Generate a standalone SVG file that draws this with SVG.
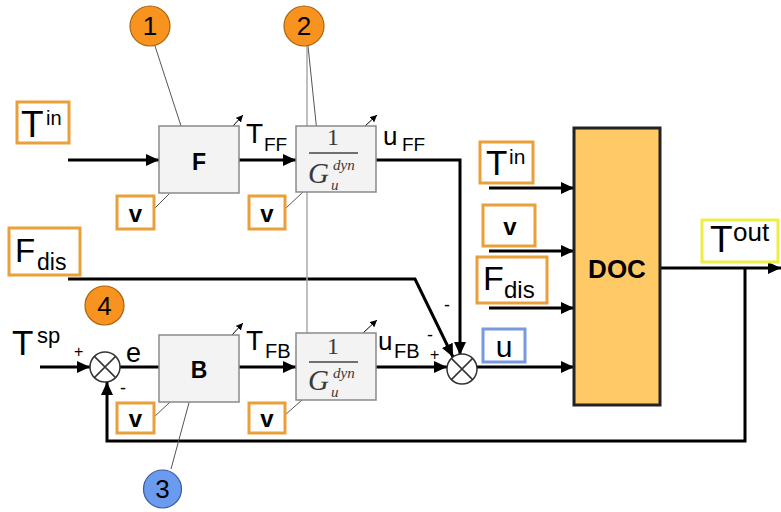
<svg xmlns="http://www.w3.org/2000/svg" width="781" height="512" viewBox="0 0 781 512">
<defs>
<marker id="ah" markerUnits="userSpaceOnUse" markerWidth="14" markerHeight="12" refX="13" refY="6" orient="auto">
<path d="M0,0 L13,6 L0,12 Z" fill="#000"/>
</marker>
<marker id="sah" markerUnits="userSpaceOnUse" markerWidth="8" markerHeight="8" refX="7" refY="3.5" orient="auto">
<path d="M0,0 L7,3.5 L0,7 Z" fill="#000"/>
</marker>
<style>
.w{stroke:#000;stroke-width:3;fill:none}
.a{marker-end:url(#ah)}
.blk{fill:#f3f3f3;stroke:#8a8a8a;stroke-width:1.5}
.ob{fill:#fff;stroke:#E9A03A;stroke-width:3}
.t{font-family:"Liberation Sans",Arial,sans-serif;fill:#000}
.b{font-weight:bold}
.s{font-family:"Liberation Serif","Times New Roman",serif;fill:#3a3a3a}
.thin{stroke:#555;stroke-width:1;fill:none}
.sm{stroke:#000;stroke-width:1;fill:none;marker-end:url(#sah)}
.sum{fill:#fff;stroke:#333;stroke-width:1.5}
.oc{fill:#F7931E;stroke:#A86410;stroke-width:1.2}
.bc{fill:#6B9BEF;stroke:#3A5A9A;stroke-width:1.2}
</style>
</defs>

<g id="connectors">
<line class="w a" x1="68" y1="160" x2="159" y2="160"/>
<line class="w a" x1="239" y1="160" x2="296" y2="160"/>
<polyline class="w a" points="376,160 460,160 460,355"/>
<polyline class="w a" points="68,279 415,279 453,357"/>
<line class="w a" x1="40" y1="367" x2="90" y2="367"/>
<line class="w" x1="120" y1="367" x2="159" y2="367"/>
<line class="w a" x1="239" y1="367" x2="296" y2="367"/>
<line class="w a" x1="376" y1="367" x2="447" y2="367"/>
<line class="w a" x1="477" y1="367" x2="574" y2="367"/>
<line class="w a" x1="489" y1="188" x2="574" y2="188"/>
<line class="w a" x1="489" y1="251" x2="574" y2="251"/>
<line class="w a" x1="489" y1="308" x2="574" y2="308"/>
<line class="w a" x1="660" y1="268" x2="781" y2="268"/>
<polyline class="w a" points="745,268 745,441 107,441 107,382"/>
<!-- annotation lines -->
<line class="thin" x1="155" y1="46" x2="182" y2="129"/>
<line class="thin" x1="308" y1="46" x2="318" y2="142"/>
<line x1="307" y1="46" x2="307" y2="340" stroke="#aaa" stroke-width="1.5"/>
<line class="thin" x1="171" y1="469" x2="193" y2="388"/>
<line class="thin" x1="154" y1="209" x2="169" y2="194"/>
<line class="thin" x1="285" y1="209" x2="303" y2="192"/>
<line class="thin" x1="153" y1="418" x2="170" y2="402"/>
<line class="thin" x1="285" y1="415" x2="302" y2="400"/>
<line class="sm" x1="233" y1="126" x2="243" y2="115"/>
<line class="sm" x1="365" y1="126" x2="377" y2="115"/>
<line class="sm" x1="232" y1="335" x2="243" y2="323"/>
<line class="sm" x1="363" y1="333" x2="377" y2="320"/>
</g>

<g id="circle1"><circle class="oc" cx="150" cy="26" r="20"/><text class="t" x="150" y="35" font-size="26" text-anchor="middle">1</text></g>
<g id="circle2"><circle class="oc" cx="304" cy="26" r="20"/><text class="t" x="304" y="35" font-size="26" text-anchor="middle">2</text></g>
<g id="circle4"><circle class="oc" cx="104.5" cy="305.5" r="19.5"/><text class="t" x="104.5" y="314.5" font-size="26" text-anchor="middle">4</text></g>
<g id="circle3"><circle class="bc" cx="162.5" cy="489" r="19"/><text class="t" x="162.5" y="498" font-size="26" text-anchor="middle">3</text></g>

<g id="Tin-left"><rect class="ob" x="17" y="102" width="52" height="41"/><text class="t" x="21" y="137" font-size="37">T</text><text class="t" x="46" y="125" font-size="20">in</text></g>
<g id="Fdis-left"><rect class="ob" x="9" y="228" width="71" height="47"/><text class="t" x="15" y="262" font-size="33">F</text><text class="t" x="37" y="270" font-size="23">dis</text></g>
<g id="Tsp"><text class="t" x="12" y="355" font-size="35">T</text><text class="t" x="37" y="343" font-size="22">sp</text><text class="t" x="74" y="357" font-size="16">+</text><text class="t" x="120" y="394" font-size="18">-</text></g>
<g id="e"><text class="t" x="126" y="362" font-size="27">e</text></g>

<g id="F"><rect class="blk" x="159" y="126" width="80" height="67"/><text class="t b" x="199" y="170" font-size="23" text-anchor="middle">F</text></g>
<g id="B"><rect class="blk" x="159" y="335" width="80" height="67"/><text class="t b" x="199" y="378" font-size="23" text-anchor="middle">B</text></g>

<g id="v1"><rect class="ob" x="117" y="196" width="37" height="33"/><text class="t b" x="135.5" y="222" font-size="24" text-anchor="middle">v</text></g>
<g id="v2"><rect class="ob" x="249" y="196" width="36" height="33"/><text class="t b" x="267" y="222" font-size="24" text-anchor="middle">v</text></g>
<g id="v3"><rect class="ob" x="117" y="403" width="37" height="30"/><text class="t b" x="135.5" y="427" font-size="24" text-anchor="middle">v</text></g>
<g id="v4"><rect class="ob" x="249" y="403" width="36" height="30"/><text class="t b" x="267" y="427" font-size="24" text-anchor="middle">v</text></g>

<g id="TFF"><text class="t" x="246" y="143" font-size="28">T</text><text class="t" x="264" y="151" font-size="19">FF</text></g>
<g id="TFB"><text class="t" x="246" y="350" font-size="28">T</text><text class="t" x="265" y="358" font-size="20">FB</text></g>
<g id="uFF"><text class="t" x="383" y="145" font-size="26">u</text><text class="t" x="402" y="151" font-size="19">FF</text></g>
<g id="uFB"><text class="t" x="378" y="350" font-size="26">u</text><text class="t" x="394" y="358" font-size="20">FB</text></g>

<g id="Gu-FF"><rect class="blk" x="296" y="126" width="80" height="66"/>
<text class="s" x="333" y="145" font-size="24" text-anchor="middle">1</text>
<line x1="309" y1="153" x2="358" y2="153" stroke="#444" stroke-width="1.5"/>
<text class="s" x="308" y="183" font-size="29" font-style="italic">G</text>
<text class="s" x="333" y="170" font-size="15" font-style="italic">dyn</text>
<text class="s" x="331" y="190" font-size="15" font-style="italic">u</text></g>
<g id="Gu-FB"><rect class="blk" x="296" y="333" width="80" height="67"/>
<text class="s" x="333" y="354" font-size="24" text-anchor="middle">1</text>
<line x1="309" y1="362" x2="358" y2="362" stroke="#444" stroke-width="1.5"/>
<text class="s" x="308" y="390" font-size="29" font-style="italic">G</text>
<text class="s" x="333" y="378" font-size="15" font-style="italic">dyn</text>
<text class="s" x="331" y="397" font-size="15" font-style="italic">u</text></g>

<g id="sum1"><circle class="sum" cx="105" cy="367" r="15"/><path d="M94.4,356.4 L115.6,377.6 M115.6,356.4 L94.4,377.6" stroke="#333" stroke-width="1.5"/></g>
<g id="sum2"><circle class="sum" cx="462" cy="369" r="15"/><path d="M451.4,358.4 L472.6,379.6 M472.6,358.4 L451.4,379.6" stroke="#333" stroke-width="1.5"/>
<text class="t" x="444" y="311" font-size="18">-</text><text class="t" x="427" y="341" font-size="18">-</text><text class="t" x="430" y="360" font-size="16">+</text></g>

<g id="DOC"><rect x="574" y="128" width="86" height="277" fill="#FFC966" stroke="#222" stroke-width="3"/><text class="t b" x="617" y="278" font-size="26" text-anchor="middle">DOC</text></g>

<g id="Tin-right"><rect class="ob" x="480" y="142" width="53" height="41"/><text class="t" x="486" y="175" font-size="35">T</text><text class="t" x="509" y="164" font-size="21">in</text></g>
<g id="v-right"><rect class="ob" x="483" y="205" width="52" height="41"/><text class="t b" x="510" y="235" font-size="24" text-anchor="middle">v</text></g>
<g id="Fdis-right"><rect class="ob" x="477" y="257" width="70" height="46"/><text class="t" x="483" y="290" font-size="34">F</text><text class="t" x="504" y="298" font-size="24">dis</text></g>
<g id="u"><rect x="483" y="329" width="42" height="33" fill="#fff" stroke="#7799DD" stroke-width="3"/><text class="t" x="504" y="357" font-size="30" text-anchor="middle">u</text></g>
<g id="Tout"><rect x="702" y="220" width="76" height="42" fill="#fff" stroke="#EEEE44" stroke-width="3"/><text class="t" x="710" y="252" font-size="37">T</text><text class="t" x="733" y="241" font-size="26">out</text></g>
</svg>
